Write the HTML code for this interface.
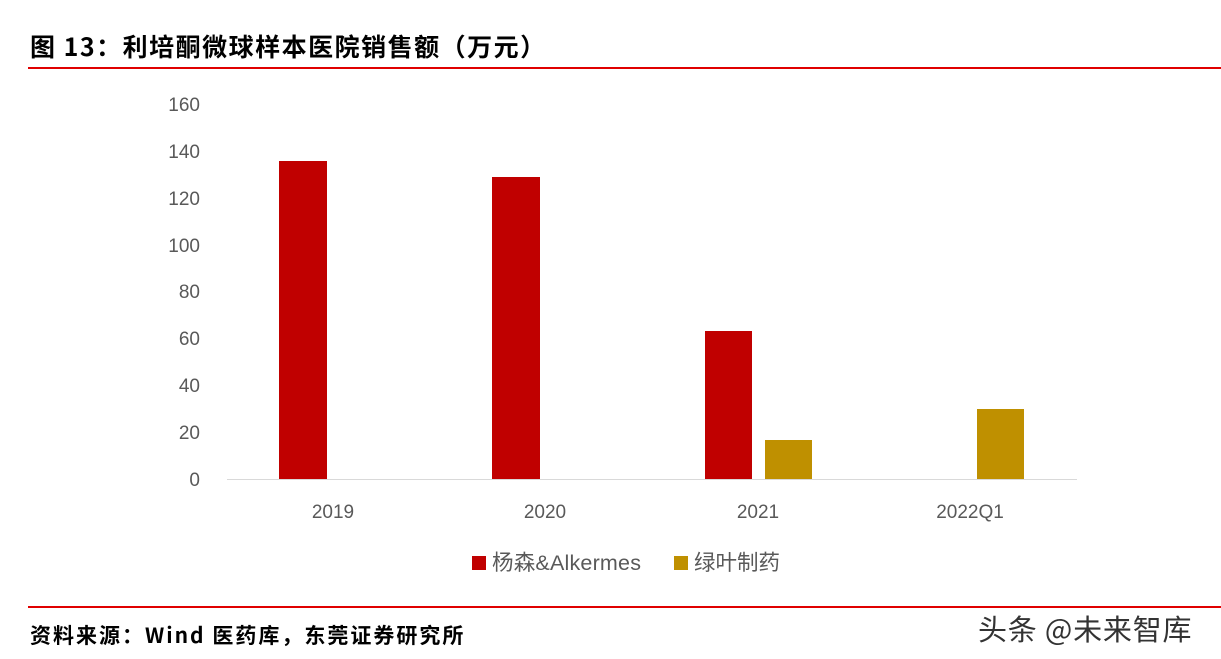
<!DOCTYPE html>
<html><head><meta charset="utf-8"><style>
body{margin:0;background:#fff;width:1221px;height:659px;overflow:hidden;position:relative;font-family:"Liberation Sans","Noto Sans CJK SC",sans-serif;}
.a{position:absolute;white-space:nowrap}
</style></head><body>
<div class="a" style="left:30px;top:30px;font-size:25px;line-height:32px;letter-spacing:1.5px;font-weight:bold;color:#000;font-family:'WenQuanYi Zen Hei','Noto Sans CJK SC',sans-serif;">图 13：利培酮微球样本医院销售额（万元）</div>
<div class="a" style="left:28px;top:67px;width:1193px;height:2px;background:#e00000"></div>
<svg class="a" style="left:0;top:0" width="1221" height="659">
<g font-family="Liberation Sans, sans-serif" font-size="19" fill="#595959" text-anchor="end">
<text x="200" y="111">160</text><text x="200" y="158">140</text><text x="200" y="205">120</text>
<text x="200" y="252">100</text><text x="200" y="298">80</text><text x="200" y="345">60</text>
<text x="200" y="392">40</text><text x="200" y="439">20</text><text x="200" y="486">0</text>
</g>
<line x1="227" y1="479.5" x2="1077" y2="479.5" stroke="#d9d9d9" stroke-width="1"/>
<rect x="279" y="161" width="48" height="318" fill="#c00000"/>
<rect x="492" y="177" width="48" height="302" fill="#c00000"/>
<rect x="705" y="331" width="47" height="148" fill="#c00000"/>
<rect x="765" y="440" width="47" height="39" fill="#bf9000"/>
<rect x="977" y="409" width="47" height="70" fill="#bf9000"/>
<g font-family="Liberation Sans, sans-serif" font-size="19" fill="#595959" text-anchor="middle">
<text x="333" y="518">2019</text><text x="545" y="518">2020</text><text x="758" y="518">2021</text><text x="970" y="518">2022Q1</text>
</g>
<rect x="472" y="556" width="14" height="14" fill="#c00000"/>
<text x="492" y="570" font-family="Liberation Sans, Noto Sans CJK SC, sans-serif" font-size="21.5" letter-spacing="0.2" fill="#595959">杨森&amp;Alkermes</text>
<rect x="674" y="556" width="14" height="14" fill="#bf9000"/>
<text x="694" y="570" font-family="Liberation Sans, Noto Sans CJK SC, sans-serif" font-size="21.5" fill="#595959">绿叶制药</text>
</svg>
<div class="a" style="left:28px;top:606px;width:1193px;height:2px;background:#e00000"></div>
<div class="a" style="left:30px;top:621px;font-size:21px;line-height:28px;letter-spacing:2px;font-weight:bold;color:#000;font-family:'WenQuanYi Zen Hei','Noto Sans CJK SC',sans-serif;">资料来源：Wind 医药库，东莞证券研究所</div>
<div class="a" style="left:978px;top:608px;font-size:29px;letter-spacing:0.8px;color:#333;font-family:'Noto Sans CJK SC',sans-serif;line-height:40px;">头条 @未来智库</div>
</body></html>
